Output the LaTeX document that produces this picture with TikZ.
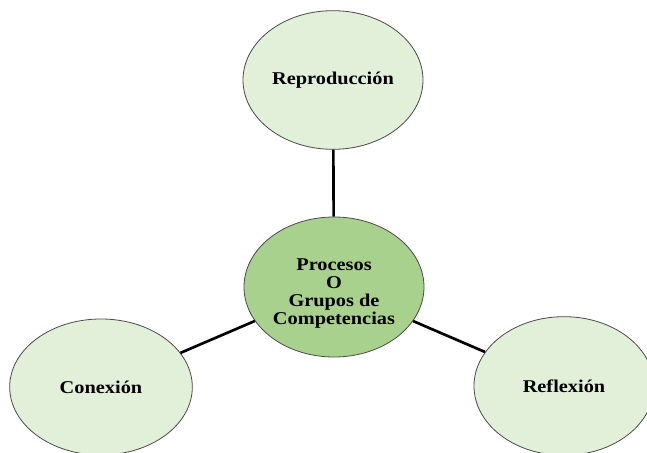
\documentclass[tikz,border=0pt]{standalone}
\usepackage{fontspec}
\usepackage{graphicx}
\setmainfont{Liberation Serif}
\usetikzlibrary{shapes.geometric}
\definecolor{lightg}{HTML}{E2EFD9}
\definecolor{midg}{HTML}{A9D18E}
\definecolor{rim}{HTML}{4A4A4A}
\newcommand\btxt[1]{\scalebox{1.13}[1]{\fontsize{13.5}{13.3}\selectfont\bfseries #1}}
\begin{document}
\begin{tikzpicture}[x=0.75pt,y=-0.75pt,
  bubble/.style={ellipse, draw=rim, line width=0.6pt, fill=lightg, inner sep=0pt,
    minimum width=135pt, minimum height=104pt, text=black},
  hub/.style={bubble, fill=midg},
  link/.style={line width=2pt, black}]
\useasboundingbox (0,0) rectangle (647,453);
\node[bubble] (rep) at (333,80) {\btxt{Reproducción}};
\node[hub, minimum height=105pt] (pro) at (334,287) {};
\node[inner sep=0pt] (protext) at (334,294) {\btxt{\begin{tabular}{@{}c@{}}Procesos\\O\\Grupos de\\Competencias\end{tabular}}};
\node[bubble, minimum width=137pt, minimum height=102pt] (con) at (101,387) {\btxt{Conexión}};
\node[bubble] (ref) at (564,386) {\btxt{Reflexión}};
\draw[link] (rep) -- (pro);
\draw[link] (pro) -- (con);
\draw[link] (pro) -- (ref);
\end{tikzpicture}
\end{document}
